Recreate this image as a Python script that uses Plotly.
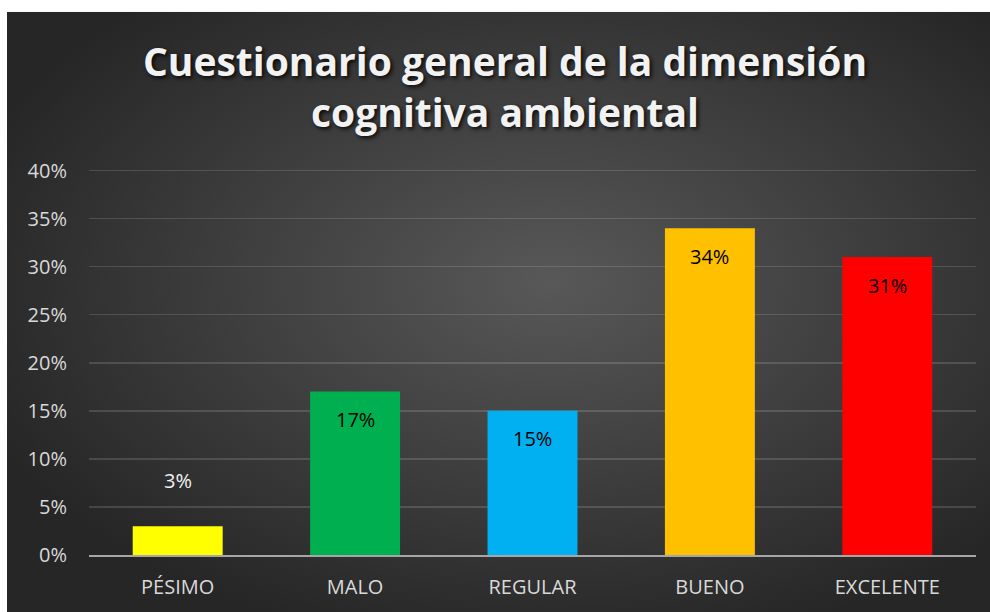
import base64
import plotly.graph_objects as go

categories = ["PÉSIMO", "MALO", "REGULAR", "BUENO", "EXCELENTE"]
values = [0.03, 0.17, 0.15, 0.34, 0.31]
bar_colors = ["#FFFF00", "#00B050", "#00B0F0", "#FFC000", "#FF0000"]
tick_vals = [0, 0.05, 0.10, 0.15, 0.20, 0.25, 0.30, 0.35, 0.40]
tick_text = ["0%", "5%", "10%", "15%", "20%", "25%", "30%", "35%", "40%"]
title_text = "Cuestionario general de la dimensión<br>cognitiva ambiental"

W, H = 990, 612
ML, MR, MT, MB = 89, 14, 169, 55
PW, PH = W - ML - MR, H - MT - MB
BG_X0, BG_Y0 = 7, 11

svg = f"""<svg xmlns='http://www.w3.org/2000/svg' width='{W-BG_X0}' height='{H-BG_Y0}' preserveAspectRatio='none'>
<defs><radialGradient id='g' cx='55%' cy='45%' r='62%' gradientUnits='objectBoundingBox'>
<stop offset='0' stop-color='#585858'/><stop offset='1' stop-color='#262626'/></radialGradient></defs>
<rect x='0' y='0' width='100%' height='100%' fill='url(#g)'/></svg>"""
svg_uri = "data:image/svg+xml;base64," + base64.b64encode(svg.encode()).decode()

fig = go.Figure()
fig.add_trace(go.Bar(
    x=categories, y=values, marker=dict(color=bar_colors, line=dict(width=0)),
    width=0.507, hoverinfo="skip", showlegend=False,
))

for c, v in zip(categories, values):
    inside = v >= 0.05
    fig.add_annotation(
        x=c, y=v, xref="x", yref="y", text=f"{round(v*100)}%",
        showarrow=False, yanchor="middle",
        yshift=-28 if inside else 46,
        font=dict(family="Open Sans", size=20,
                  color="#000000" if inside else "#F2F2F2"),
    )

fig.add_layout_image(dict(
    source=svg_uri, xref="paper", yref="paper",
    x=(BG_X0 - ML) / PW, y=(H - MB - BG_Y0) / PH,
    sizex=(W + 4 - BG_X0) / PW, sizey=(H + 4 - BG_Y0) / PH,
    sizing="stretch", xanchor="left", yanchor="top", layer="below",
))

fig.update_layout(
    width=W, height=H,
    margin=dict(l=ML, r=MR, t=MT, b=MB, pad=0),
    paper_bgcolor="#FFFFFF", plot_bgcolor="rgba(0,0,0,0)",
    title=dict(
        text=title_text, x=505 / W, xanchor="center",
        y=1 - 76 / H, yanchor="middle", yref="container",
        font=dict(family="Open Sans", size=39, color="#F2F2F2", weight="bold",
                  shadow="2px 2px 4px rgba(0,0,0,0.85)"),
    ),
    bargap=0.49,
    xaxis=dict(
        showgrid=False, showline=True, linecolor="#A6A6A6", linewidth=2,
        tickfont=dict(family="Open Sans", size=20, color="#D9D9D9"),
        ticks="", ticklabelstandoff=13, fixedrange=True,
    ),
    yaxis=dict(
        range=[0, 0.4016], tickvals=tick_vals, ticktext=tick_text,
        showgrid=True, gridcolor="rgba(255,255,255,0.14)", gridwidth=1.5,
        zeroline=False, showline=False, ticks="",
        tickfont=dict(family="Open Sans", size=20, color="#D9D9D9"),
        ticklabelstandoff=21, fixedrange=True,
    ),
)

fig.write_html(
    "out.html",
    config={"displayModeBar": False, "staticPlot": True},
    post_script="document.body.style.margin='0';document.body.style.padding='0';document.body.style.overflow='hidden';",
)
